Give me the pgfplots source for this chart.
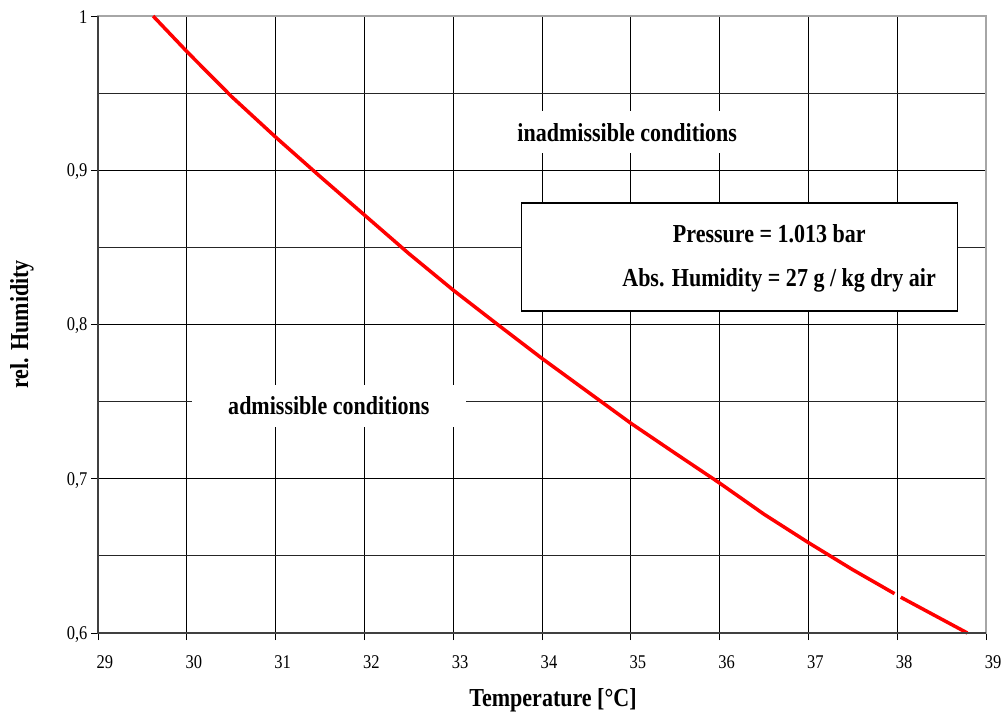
\documentclass[border=0pt]{standalone}
\usepackage{fontspec}
\setmainfont{Liberation Serif}[FakeStretch=0.85]
\usepackage{pgfplots}
\pgfplotsset{compat=1.18}
\begin{document}
\begin{tikzpicture}
\begin{axis}[
  scale only axis, width=888bp, height=617bp,
  xmin=29, xmax=39, ymin=0.6, ymax=1,
  xtick={29,30,...,39},
  ytick={0.6,0.7,0.8,0.9,1},
  yticklabels={{0,6},{0,7},{0,8},{0,9},1},
  minor ytick={0.65,0.75,0.85,0.95},
  xtick pos=bottom, ytick pos=left,
  grid=both,
  major grid style={black, line width=0.8bp},
  minor grid style={black!85, line width=0.8bp},
  tick align=outside, major tick length=7bp, minor tick length=0pt,
  tick style={black, line width=0.8bp},
  axis line style={gray!70, line width=2bp},
  tick label style={font=\fontsize{19.5}{20}\selectfont},
  xticklabel style={xshift=7bp, yshift=-12bp},
  yticklabel style={yshift=-1.5bp},
  /pgf/number format/assume math mode=true,
  xlabel={\textbf{Temperature [°C]}},
  ylabel={\textbf{rel. Humidity}},
  xlabel style={font=\fontsize{26}{30}\selectfont, at={(rel axis cs:0.5,0)}, anchor=center, yshift=-67bp, xshift=11bp},
  ylabel style={font=\fontsize{26}{30}\selectfont, at={(rel axis cs:0,0.5)}, anchor=center, yshift=76bp},
  clip=false,
]
\addplot[red, line width=3.5bp] coordinates {
(29.62,1.0) (30,0.977) (30.5,0.948) (31,0.9215) (31.5,0.896) (32,0.871)
(32.5,0.846) (33,0.8223) (33.5,0.800) (34,0.778) (34.5,0.757) (35,0.736)
(35.5,0.7165) (36,0.6972) (36.5,0.677) (37,0.6586) (37.5,0.641) (37.97,0.6255)
};
\addplot[red, line width=3.5bp] coordinates {
(38.04,0.6232) (38.79,0.6)
};
\draw[black!75, line width=2bp] (rel axis cs:0,1) -- (rel axis cs:0,0) -- (rel axis cs:1,0);
\node[fill=white, inner xsep=36bp, inner ysep=12bp, font=\fontsize{26}{30}\selectfont\bfseries] at (axis cs:34.96,0.9247) {inadmissible conditions};
\node[fill=white, inner xsep=36bp, inner ysep=12bp, font=\fontsize{26}{30}\selectfont\bfseries] at (axis cs:31.6,0.7474) {admissible conditions};
\draw[black, line width=1.8bp, fill=white] (axis cs:33.77,0.8786) rectangle (axis cs:38.68,0.809);
\node[font=\fontsize{26}{30}\selectfont\bfseries] at (axis cs:36.56,0.859) {Pressure = 1.013 bar};
\node[font=\fontsize{26}{30}\selectfont\bfseries] at (axis cs:36.67,0.8286) {Abs. Humidity = 27 g / kg dry air};
\end{axis}
\path ([xshift=-98bp,yshift=-83bp]current axis.south west) rectangle ([xshift=19bp,yshift=16bp]current axis.north east);
\end{tikzpicture}
\end{document}
